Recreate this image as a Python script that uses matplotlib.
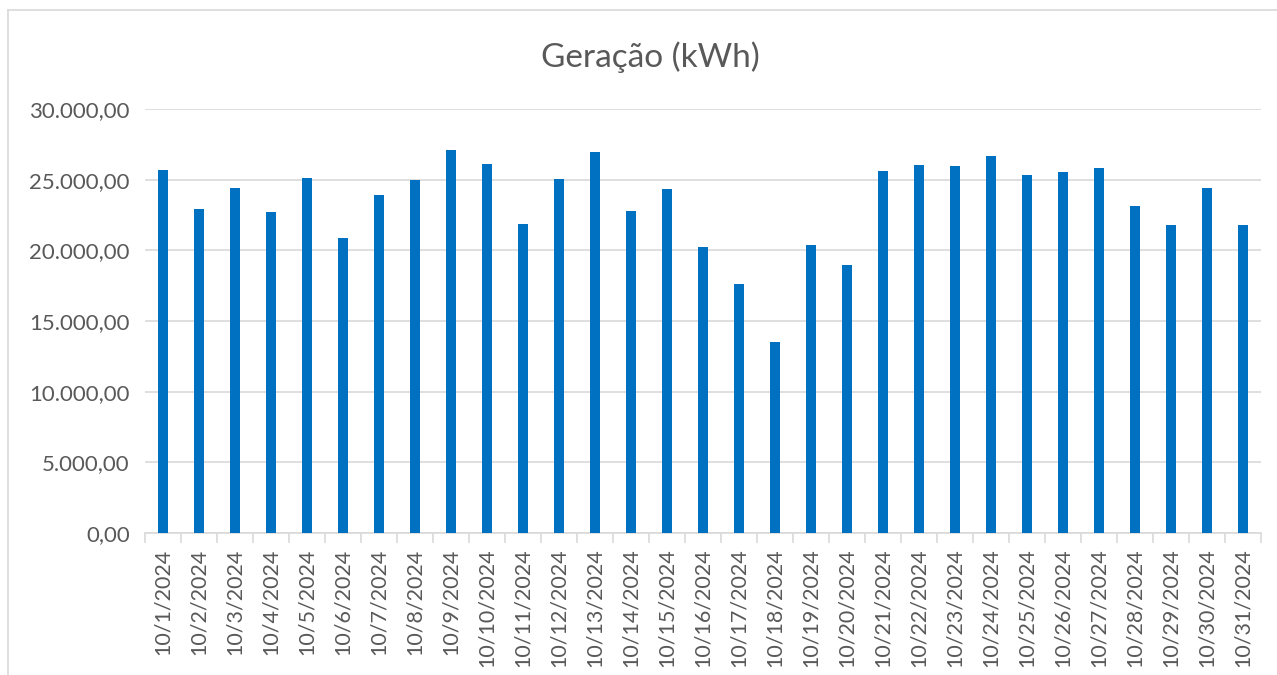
import matplotlib
matplotlib.use('Agg')
import matplotlib.pyplot as plt
from matplotlib.lines import Line2D
from matplotlib.ticker import FuncFormatter, FixedLocator

plt.rcParams['font.family'] = ['Lato', 'DejaVu Sans']

# daily generation, October 2024 (kWh)
dates = [f"10/{d}/2024" for d in range(1, 32)]
geracao = [25690, 22920, 24410, 22690, 25100, 20850, 23910, 25000, 27080, 26130,
           21840, 25050, 26960, 22780, 24360, 20240, 17620, 13510, 20360, 18990,
           25610, 26040, 25970, 26650, 25310, 25520, 25830, 23110, 21790, 24410,
           21790]

BAR = '#0070C0'
GRID = '#D9D9D9'
TXT = '#595959'


def br_fmt(v, pos):
    s = f"{v:,.2f}"
    return s.replace(',', 'X').replace('.', ',').replace('X', '.')


fig = plt.figure(figsize=(12.77, 6.75), dpi=100)
ax = fig.add_axes([145 / 1277, 1 - 533 / 675, 1116 / 1277, 424 / 675])

x = list(range(len(dates)))
ax.bar(x, geracao, width=0.3, color=BAR, zorder=3)

ax.set_xlim(-0.5, len(dates) - 0.5)
ax.set_ylim(0, 30000)
ax.set_yticks(range(0, 30001, 5000))
ax.yaxis.set_major_formatter(FuncFormatter(br_fmt))
ax.grid(axis='y', color=GRID, lw=1.2, zorder=0)

ax.set_xticks(x)
ax.set_xticklabels(dates, rotation=90)
ax.xaxis.set_minor_locator(FixedLocator([i - 0.5 for i in range(len(dates) + 1)]))
ax.tick_params(axis='x', which='major', length=0, pad=11, labelsize=15.5, labelcolor=TXT)
ax.tick_params(axis='x', which='minor', length=7, color=GRID, width=1.2)
ax.tick_params(axis='y', length=0, pad=11, labelsize=16, labelcolor=TXT)

for s in ['top', 'right', 'left']:
    ax.spines[s].set_visible(False)
ax.spines['bottom'].set_color(GRID)
ax.spines['bottom'].set_linewidth(1.2)

fig.text(650 / 1277, 1 - 57 / 675, 'Geração (kWh)', ha='center', va='center',
         fontsize=24, color=TXT)

# chart area border
fig.add_artist(Line2D([8 / 1277, 8 / 1277], [0, 1 - 10 / 675], color=GRID, lw=1.2))
fig.add_artist(Line2D([8 / 1277, 1], [1 - 10 / 675, 1 - 10 / 675], color=GRID, lw=1.2))

fig.savefig('out.png', dpi=100)
